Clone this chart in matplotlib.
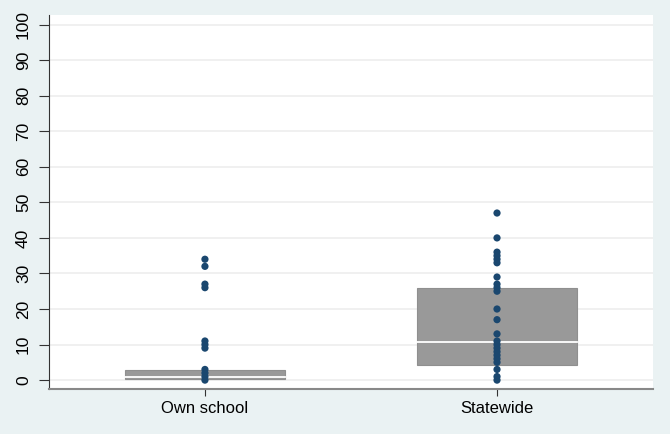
import numpy as np
import matplotlib.pyplot as plt

plt.rcParams['font.family'] = ['Liberation Sans', 'DejaVu Sans']

groups = ['Own school', 'Statewide']
own_school = [34, 32, 27, 26, 11, 10, 9, 3, 2, 1, 0]
statewide = [47, 40, 36, 35, 34, 33, 29, 27, 26, 25, 20, 17, 13, 11, 10, 9, 8, 7, 6, 5, 3, 1, 0]
q1 = [0.3, 4.2]
median = [1.0, 10.6]
q3 = [2.8, 25.8]
yticks = list(range(0, 101, 10))

bg = '#eaf2f3'
fig = plt.figure(figsize=(6.7, 4.34), dpi=100, facecolor=bg)
ax = fig.add_axes([0.0731, 0.1037, 0.9015, 0.8617])
ax.set_facecolor('white')

pos = np.arange(1, len(groups) + 1)
w = 0.545
for i, p in enumerate(pos):
    ax.bar(p, q3[i] - q1[i], bottom=q1[i], width=w, color='#999999',
           edgecolor='#8f8f8f', linewidth=0.8, zorder=2)
    ax.plot([p - w / 2, p + w / 2], [median[i], median[i]], color='white',
            lw=1.3, zorder=3)

for p, vals in zip(pos, [own_school, statewide]):
    ax.scatter(np.full(len(vals), p), vals, s=27, color='#1a476f',
               edgecolors='none', zorder=4)

ax.set_xlim(0.466, 2.534)
ax.set_ylim(-2.5, 102.7)
ax.set_yticks(yticks)
ax.set_yticklabels([str(t) for t in yticks], rotation=90, va='center',
                   fontsize=12.5)
ax.set_xticks(pos)
ax.set_xticklabels(groups, fontsize=12)
ax.yaxis.grid(True, color='#eeeeee', lw=1.2, zorder=0)
ax.set_axisbelow(True)
ax.tick_params(axis='y', length=7, width=0.8, color='#333333', pad=6)
ax.tick_params(axis='x', length=5, width=0.8, color='#333333', pad=4)
for s in ['top', 'right']:
    ax.spines[s].set_visible(False)
ax.spines['left'].set_color('#333333')
ax.spines['bottom'].set_color('#888888')
ax.spines['bottom'].set_linewidth(1.5)

fig.savefig('out.png', dpi=100, facecolor=bg)
